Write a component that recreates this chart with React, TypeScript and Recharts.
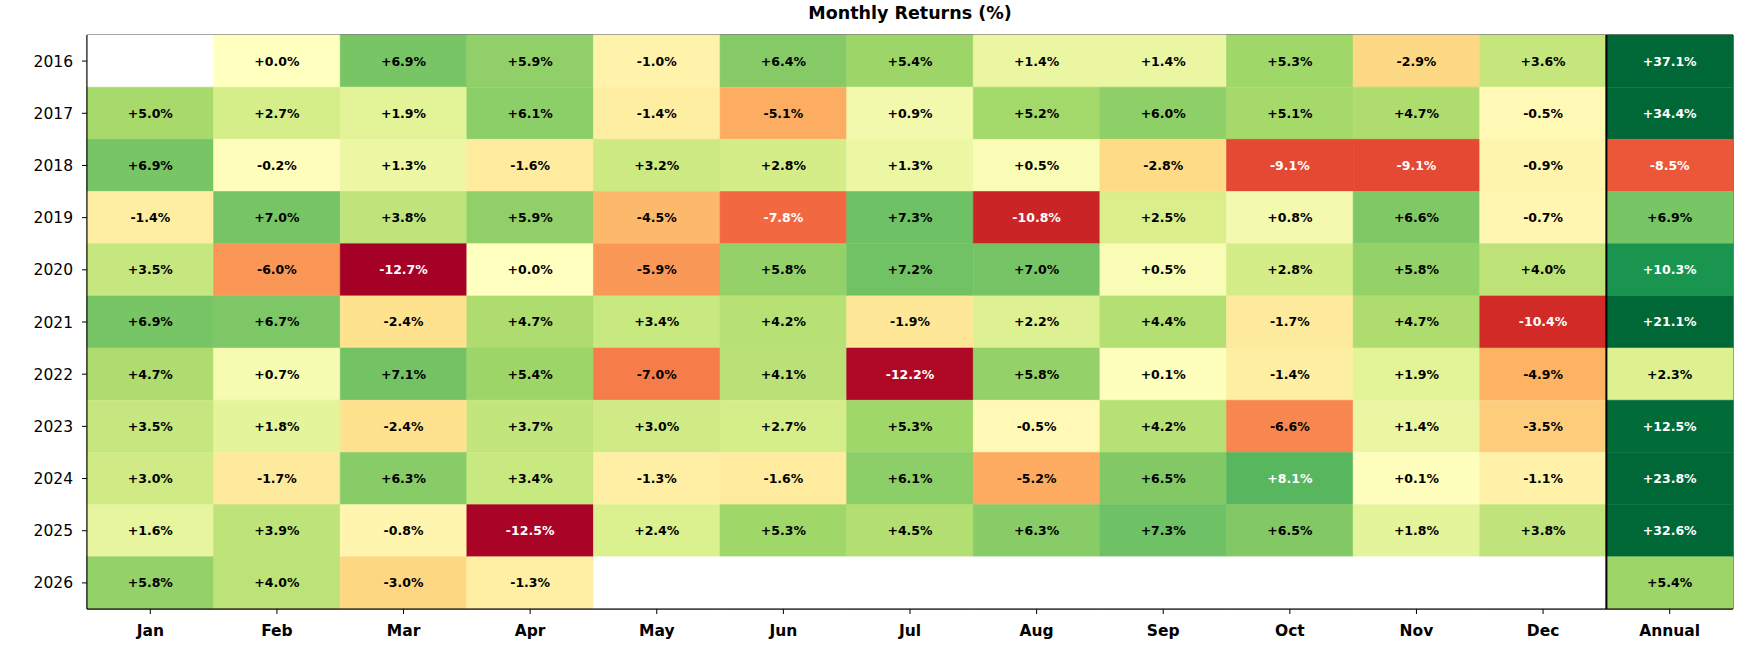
import React from "react";
import {
  BarChart,
  Bar,
  Cell,
  LabelList,
  XAxis,
  YAxis,
  ReferenceLine,
  ReferenceArea,
} from "recharts";

// ─── Data ─────────────────────────────────────────────────────────────────────

const COLUMNS = ["Jan", "Feb", "Mar", "Apr", "May", "Jun", "Jul", "Aug", "Sep", "Oct", "Nov", "Dec", "Annual"];
const YEARS = ["2016", "2017", "2018", "2019", "2020", "2021", "2022", "2023", "2024", "2025", "2026"];

// monthly returns Jan..Dec, then annual (null = no data)
const R2016 = [null, 0.0, 6.9, 5.9, -1.0, 6.4, 5.4, 1.4, 1.4, 5.3, -2.9, 3.6, 37.1];
const R2017 = [5.0, 2.7, 1.9, 6.1, -1.4, -5.1, 0.9, 5.2, 6.0, 5.1, 4.7, -0.5, 34.4];
const R2018 = [6.9, -0.2, 1.3, -1.6, 3.2, 2.8, 1.3, 0.5, -2.8, -9.1, -9.1, -0.9, -8.5];
const R2019 = [-1.4, 7.0, 3.8, 5.9, -4.5, -7.8, 7.3, -10.8, 2.5, 0.8, 6.6, -0.7, 6.9];
const R2020 = [3.5, -6.0, -12.7, 0.0, -5.9, 5.8, 7.2, 7.0, 0.5, 2.8, 5.8, 4.0, 10.3];
const R2021 = [6.9, 6.7, -2.4, 4.7, 3.4, 4.2, -1.9, 2.2, 4.4, -1.7, 4.7, -10.4, 21.1];
const R2022 = [4.7, 0.7, 7.1, 5.4, -7.0, 4.1, -12.2, 5.8, 0.1, -1.4, 1.9, -4.9, 2.3];
const R2023 = [3.5, 1.8, -2.4, 3.7, 3.0, 2.7, 5.3, -0.5, 4.2, -6.6, 1.4, -3.5, 12.5];
const R2024 = [3.0, -1.7, 6.3, 3.4, -1.3, -1.6, 6.1, -5.2, 6.5, 8.1, 0.1, -1.1, 23.8];
const R2025 = [1.6, 3.9, -0.8, -12.5, 2.4, 5.3, 4.5, 6.3, 7.3, 6.5, 1.8, 3.8, 32.6];
const R2026 = [5.8, 4.0, -3.0, -1.3, null, null, null, null, null, null, null, null, 5.4];

const RETURNS = [R2016, R2017, R2018, R2019, R2020, R2021, R2022, R2023, R2024, R2025, R2026];

const rows = YEARS.map((year, i) => {
  const r: Record<string, any> = { year };
  RETURNS[i].forEach((v, j) => (r[`c${j}`] = v));
  return r;
});

// ─── RdYlGn colormap (matplotlib) ─────────────────────────────────────────────

const RDYLGN = [
  [165, 0, 38], [215, 48, 39], [244, 109, 67], [253, 174, 97], [254, 224, 139],
  [255, 255, 191], [217, 239, 139], [166, 217, 106], [102, 189, 99], [26, 152, 80], [0, 104, 55],
];
const VMAX = 12.7;

function colorFor(v: number | null) {
  if (v == null) return "#ffffff";
  let t = (v + VMAX) / (2 * VMAX);
  t = Math.max(0, Math.min(1, t));
  const p = t * (RDYLGN.length - 1);
  const i = Math.min(Math.floor(p), RDYLGN.length - 2);
  const f = p - i;
  const c = RDYLGN[i].map((a, k) => Math.round(a + (RDYLGN[i + 1][k] - a) * f));
  return `rgb(${c[0]},${c[1]},${c[2]})`;
}

const fmt = (v: number) => `${v >= 0 ? "+" : ""}${v.toFixed(1)}%`;

const FONT = "DejaVu Sans";

const renderLabel = (props: any) => {
  const { x, y, width, height, value } = props;
  if (value == null) return null;
  return (
    <text
      x={Number(x) + Number(width) / 2}
      y={Number(y) + Number(height) / 2}
      textAnchor="middle"
      dominantBaseline="central"
      fontFamily={FONT}
      fontSize={12.5}
      fontWeight="bold"
      fill={Math.abs(value) > 7.5 ? "#ffffff" : "#000000"}
    >
      {fmt(value)}
    </text>
  );
};

const X_TICKS = COLUMNS.map((_, j) => j + 0.5);

export default function App() {
  return (
    <div style={{ position: "absolute", left: 0, top: 0, width: 1744, height: 657, background: "#fff" }}>
      <svg width={1744} height={30} style={{ position: "absolute", left: 0, top: 0 }}>
        <text x={910} y={19} textAnchor="middle" fontFamily={FONT} fontSize={17.5} fontWeight="bold" fill="#000">
          Monthly Returns (%)
        </text>
      </svg>
      <div style={{ position: "absolute", left: 0, top: 0 }}>
        <BarChart
          width={1744}
          height={657}
          data={rows}
          layout="vertical"
          barCategoryGap={0}
          barGap={0}
          margin={{ top: 35, right: 11, bottom: 0, left: 0 }}
        >
          <XAxis
            type="number"
            domain={[0, 13]}
            ticks={X_TICKS}
            tickFormatter={(v: number) => COLUMNS[Math.round(v - 0.5)]}
            interval={0}
            height={48}
            tickSize={5}
            tickMargin={11}
            axisLine={{ stroke: "#000" }}
            tickLine={{ stroke: "#000" }}
            tick={{ fontFamily: FONT, fontSize: 15.5, fontWeight: "bold", fill: "#000" }}
          />
          <YAxis
            type="category"
            dataKey="year"
            width={87}
            tickSize={5}
            tickMargin={9}
            axisLine={{ stroke: "#000" }}
            tickLine={{ stroke: "#000" }}
            tick={{ fontFamily: FONT, fontSize: 15.5, fill: "#000" }}
          />
          {COLUMNS.map((col, j) => (
            <Bar key={col} dataKey={() => 1} stackId="cells" isAnimationActive={false}>
              {rows.map((r, i) => {
                const c = colorFor(r[`c${j}`]);
                return <Cell key={i} fill={c} stroke={c} strokeWidth={0.6} />;
              })}
              <LabelList dataKey={`c${j}`} content={renderLabel} />
            </Bar>
          ))}
          <ReferenceLine x={12} stroke="#000" strokeWidth={2} />
          <ReferenceArea x1={0} x2={13} fill="none" fillOpacity={0} stroke="#000" strokeWidth={1} />
        </BarChart>
      </div>
    </div>
  );
}
